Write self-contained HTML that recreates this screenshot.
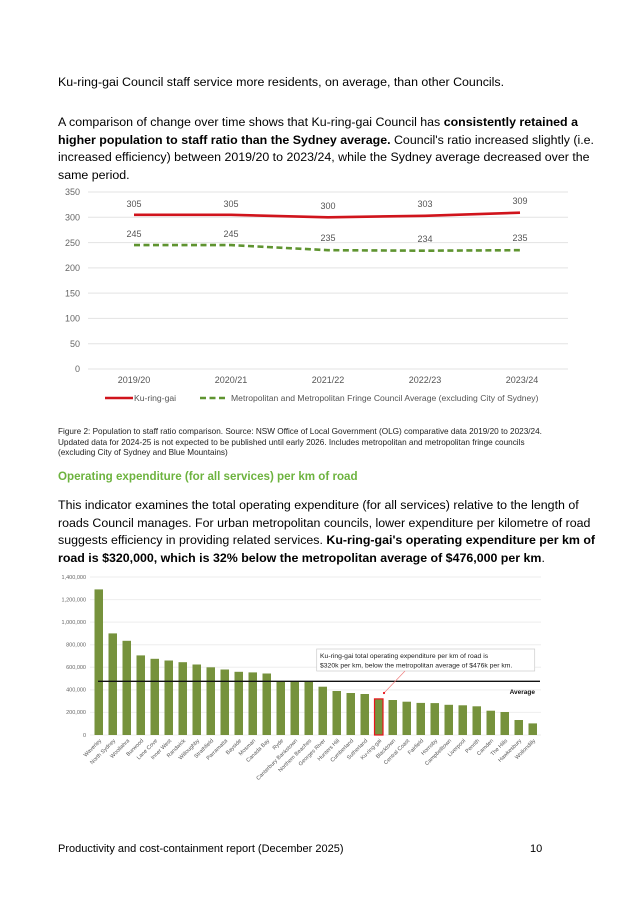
<!DOCTYPE html>
<html><head><meta charset="utf-8"><style>
html,body{margin:0;padding:0;background:#fff;}
svg{display:block;font-family:"Liberation Sans",Arial,sans-serif;}
</style></head><body>
<svg width="637" height="901" viewBox="0 0 637 901" xmlns="http://www.w3.org/2000/svg">
<g font-size="12.4" fill="#000">
<text x="58" y="86">Ku-ring-gai Council staff service more residents, on average, than other Councils.</text>
<text x="58" y="126">A comparison of change over time shows that Ku-ring-gai Council has <tspan font-weight="bold">consistently retained a</tspan></text>
<text x="58" y="144"><tspan font-weight="bold">higher population to staff ratio than the Sydney average.</tspan> Council's ratio increased slightly (i.e.</text>
<text x="58" y="161">increased efficiency) between 2019/20 to 2023/24, while the Sydney average decreased over the</text>
<text x="58" y="179">same period.</text>
</g>
<!-- line chart -->
<g stroke="#e3e3e3" stroke-width="1">
<line x1="88" x2="568" y1="192" y2="192"/><line x1="88" x2="568" y1="217.3" y2="217.3"/>
<line x1="88" x2="568" y1="242.6" y2="242.6"/><line x1="88" x2="568" y1="267.9" y2="267.9"/>
<line x1="88" x2="568" y1="293.1" y2="293.1"/><line x1="88" x2="568" y1="318.4" y2="318.4"/>
<line x1="88" x2="568" y1="343.7" y2="343.7"/><line x1="88" x2="568" y1="369" y2="369"/>
</g>
<g font-size="9" fill="#666" text-anchor="end">
<text x="80" y="195">350</text><text x="80" y="220.5">300</text><text x="80" y="246">250</text>
<text x="80" y="271">200</text><text x="80" y="296.5">150</text><text x="80" y="321.5">100</text>
<text x="80" y="347">50</text><text x="80" y="372">0</text>
</g>
<g font-size="9" fill="#555" text-anchor="middle">
<text x="134" y="383">2019/20</text><text x="231" y="383">2020/21</text><text x="328" y="383">2021/22</text>
<text x="425" y="383">2022/23</text><text x="522" y="383">2023/24</text>
<text x="134" y="207">305</text><text x="231" y="207">305</text><text x="328" y="209">300</text>
<text x="425" y="207">303</text><text x="520" y="204">309</text>
<text x="134" y="237">245</text><text x="231" y="237">245</text><text x="328" y="241">235</text>
<text x="425" y="242">234</text><text x="520" y="241">235</text>
</g>
<polyline points="134,214.8 231,214.8 328,217.3 425,215.8 520,212.7" fill="none" stroke="#d0141c" stroke-width="2.6"/>
<polyline points="134,245.1 231,245.1 328,250.2 425,250.7 520,250.2" fill="none" stroke="#5f9430" stroke-width="2.6" stroke-dasharray="6,3.5"/>
<line x1="105" x2="133" y1="398" y2="398" stroke="#d0141c" stroke-width="2.6"/>
<line x1="200" x2="227" y1="398" y2="398" stroke="#5f9430" stroke-width="2.6" stroke-dasharray="6,3.5"/>
<g font-size="8.6" fill="#555"><text x="134" y="401">Ku-ring-gai</text>
<text x="231" y="401">Metropolitan and Metropolitan Fringe Council Average (excluding City of Sydney)</text></g>
<!-- caption -->
<g font-size="8.2" fill="#222">
<text x="58" y="434">Figure 2: Population to staff ratio comparison. Source: NSW Office of Local Government (OLG) comparative data 2019/20 to 2023/24.</text>
<text x="58" y="445">Updated data for 2024-25 is not expected to be published until early 2026. Includes metropolitan and metropolitan fringe councils</text>
<text x="58" y="455">(excluding City of Sydney and Blue Mountains)</text>
</g>
<text x="58" y="480" font-size="11.6" font-weight="bold" fill="#6db33f">Operating expenditure (for all services) per km of road</text>
<g font-size="12.4" fill="#000">
<text x="58" y="509">This indicator examines the total operating expenditure (for all services) relative to the length of</text>
<text x="58" y="527">roads Council manages. For urban metropolitan councils, lower expenditure per kilometre of road</text>
<text x="58" y="544">suggests efficiency in providing related services. <tspan font-weight="bold">Ku-ring-gai's operating expenditure per km of</tspan></text>
<text x="58" y="562" font-weight="bold">road is $320,000, which is 32% below the metropolitan average of $476,000 per km<tspan font-weight="normal">.</tspan></text>
</g>
<!-- bar chart -->
<g stroke="#eeeeee" stroke-width="1">
<line x1="90" x2="541" y1="577" y2="577"/><line x1="90" x2="541" y1="599.6" y2="599.6"/>
<line x1="90" x2="541" y1="622.1" y2="622.1"/><line x1="90" x2="541" y1="644.7" y2="644.7"/>
<line x1="90" x2="541" y1="667.3" y2="667.3"/><line x1="90" x2="541" y1="689.9" y2="689.9"/>
<line x1="90" x2="541" y1="712.4" y2="712.4"/><line x1="90" x2="541" y1="735" y2="735"/>
</g>
<g font-size="5.5" fill="#666" text-anchor="end">
<text x="86" y="579">1,400,000</text><text x="86" y="601.5">1,200,000</text><text x="86" y="624">1,000,000</text>
<text x="86" y="646.5">800,000</text><text x="86" y="669">600,000</text><text x="86" y="691.5">400,000</text>
<text x="86" y="714">200,000</text><text x="86" y="737">0</text>
</g>
<g fill="#76923c">
<rect x="94.5" y="589.4" width="8.5" height="145.6"/>
<rect x="108.5" y="633.4" width="8.5" height="101.6"/>
<rect x="122.5" y="640.8" width="8.5" height="94.2"/>
<rect x="136.5" y="655.4" width="8.5" height="79.6"/>
<rect x="150.5" y="658.8" width="8.5" height="76.2"/>
<rect x="164.5" y="660.5" width="8.5" height="74.5"/>
<rect x="178.5" y="662.2" width="8.5" height="72.8"/>
<rect x="192.5" y="664.5" width="8.5" height="70.5"/>
<rect x="206.5" y="667.3" width="8.5" height="67.7"/>
<rect x="220.5" y="669.5" width="8.5" height="65.5"/>
<rect x="234.5" y="671.8" width="8.5" height="63.2"/>
<rect x="248.5" y="672.4" width="8.5" height="62.6"/>
<rect x="262.5" y="673.5" width="8.5" height="61.5"/>
<rect x="276.5" y="681.4" width="8.5" height="53.6"/>
<rect x="290.5" y="681.4" width="8.5" height="53.6"/>
<rect x="304.5" y="682" width="8.5" height="53"/>
<rect x="318.5" y="686.7" width="8.5" height="48.3"/>
<rect x="332.5" y="691" width="8.5" height="44"/>
<rect x="346.5" y="693" width="8.5" height="42"/>
<rect x="360.5" y="694" width="8.5" height="41"/>
<rect x="374.5" y="698.9" width="8.5" height="36.1" stroke="#e8141c" stroke-width="1.2"/>
<rect x="388.5" y="700" width="8.5" height="35"/>
<rect x="402.5" y="701.7" width="8.5" height="33.3"/>
<rect x="416.5" y="702.9" width="8.5" height="32.1"/>
<rect x="430.5" y="703.1" width="8.5" height="31.9"/>
<rect x="444.5" y="704.8" width="8.5" height="30.2"/>
<rect x="458.5" y="705.3" width="8.5" height="29.7"/>
<rect x="472.5" y="706.3" width="8.5" height="28.7"/>
<rect x="486.5" y="710.7" width="8.5" height="24.3"/>
<rect x="500.5" y="712" width="8.5" height="23"/>
<rect x="514.5" y="720" width="8.5" height="15"/>
<rect x="528.5" y="723.4" width="8.5" height="11.6"/>
</g>
<line x1="98" x2="540" y1="681.3" y2="681.3" stroke="#111" stroke-width="1.4"/>
<text x="535" y="694" font-size="6.5" font-weight="bold" text-anchor="end" fill="#111">Average</text>
<rect x="316.7" y="649" width="218" height="22" fill="#fff" stroke="#ccc" stroke-width="0.7"/>
<g font-size="6.8" fill="#222"><text x="320" y="658">Ku-ring-gai total operating expenditure per km of road is</text>
<text x="320" y="667.5">$320k per km, below the metropolitan average of $476k per km.</text></g>
<line x1="405" y1="671" x2="384" y2="693" stroke="#f08080" stroke-width="0.7"/>
<circle cx="384" cy="693" r="1.1" fill="#e8141c"/>
<g font-size="5.5" fill="#555" text-anchor="end">
<text transform="translate(101.7,741) rotate(-45)">Waverley</text>
<text transform="translate(115.7,741) rotate(-45)">North Sydney</text>
<text transform="translate(129.7,741) rotate(-45)">Woollahra</text>
<text transform="translate(143.7,741) rotate(-45)">Burwood</text>
<text transform="translate(157.7,741) rotate(-45)">Lane Cove</text>
<text transform="translate(171.7,741) rotate(-45)">Inner West</text>
<text transform="translate(185.7,741) rotate(-45)">Randwick</text>
<text transform="translate(199.7,741) rotate(-45)">Willoughby</text>
<text transform="translate(213.7,741) rotate(-45)">Strathfield</text>
<text transform="translate(227.7,741) rotate(-45)">Parramatta</text>
<text transform="translate(241.7,741) rotate(-45)">Bayside</text>
<text transform="translate(255.7,741) rotate(-45)">Mosman</text>
<text transform="translate(269.7,741) rotate(-45)">Canada Bay</text>
<text transform="translate(283.7,741) rotate(-45)">Ryde</text>
<text transform="translate(297.7,741) rotate(-45)">Canterbury Bankstown</text>
<text transform="translate(311.7,741) rotate(-45)">Northern Beaches</text>
<text transform="translate(325.7,741) rotate(-45)">Georges River</text>
<text transform="translate(339.7,741) rotate(-45)">Hunters Hill</text>
<text transform="translate(353.7,741) rotate(-45)">Cumberland</text>
<text transform="translate(367.7,741) rotate(-45)">Sutherland</text>
<text transform="translate(381.7,741) rotate(-45)">Ku-ring-gai</text>
<text transform="translate(395.7,741) rotate(-45)">Blacktown</text>
<text transform="translate(409.7,741) rotate(-45)">Central Coast</text>
<text transform="translate(423.7,741) rotate(-45)">Fairfield</text>
<text transform="translate(437.7,741) rotate(-45)">Hornsby</text>
<text transform="translate(451.7,741) rotate(-45)">Campbelltown</text>
<text transform="translate(465.7,741) rotate(-45)">Liverpool</text>
<text transform="translate(479.7,741) rotate(-45)">Penrith</text>
<text transform="translate(493.7,741) rotate(-45)">Camden</text>
<text transform="translate(507.7,741) rotate(-45)">The Hills</text>
<text transform="translate(521.7,741) rotate(-45)">Hawkesbury</text>
<text transform="translate(535.7,741) rotate(-45)">Wollondilly</text>
</g>
<g font-size="11" fill="#000"><text x="58" y="852">Productivity and cost-containment report (December 2025)</text>
<text x="530" y="852">10</text></g>
</svg>
</body></html>
